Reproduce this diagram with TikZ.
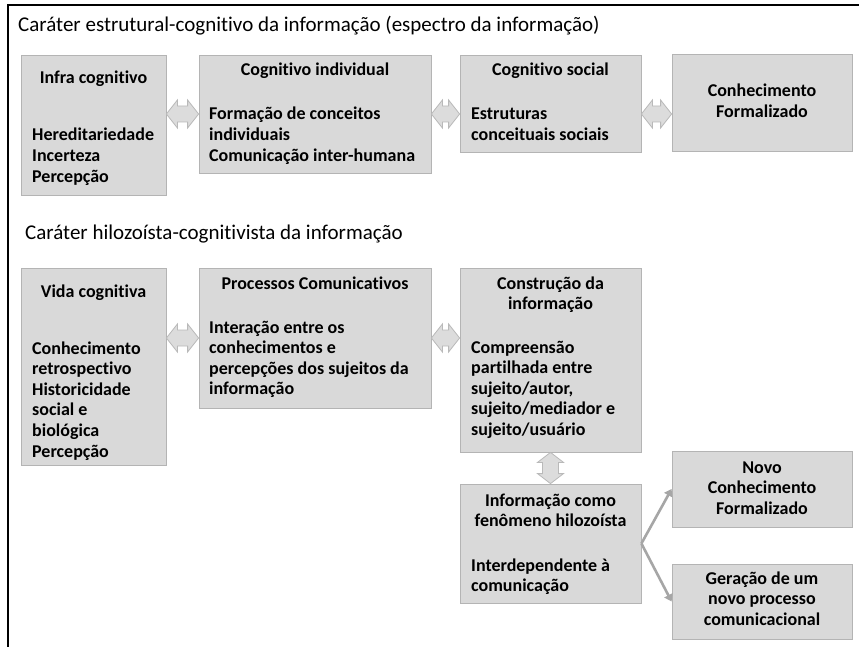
\documentclass[tikz,border=0pt]{standalone}
\usepackage{fontspec}
\setmainfont{Carlito}[Ligatures=NoCommon]
\usetikzlibrary{calc,arrows.meta}
\definecolor{boxfill}{RGB}{217,217,217}
\definecolor{boxline}{RGB}{180,180,180}
\definecolor{arrfill}{RGB}{220,220,220}
\definecolor{arrline}{RGB}{185,185,185}
\definecolor{conn}{RGB}{166,166,166}
\newcommand\hdarrow[2]{\draw[barrow] let \p1=#1, \p2=#2 in
  (\x1,\y1) -- (\x1+11pt,\y1+14pt) -- (\x1+11pt,\y1+8pt) -- (\x2-11pt,\y1+8pt) -- (\x2-11pt,\y1+14pt)
  -- (\x2,\y1) -- (\x2-11pt,\y1-14pt) -- (\x2-11pt,\y1-8pt) -- (\x1+11pt,\y1-8pt) -- (\x1+11pt,\y1-14pt) -- cycle;}
\newcommand\vdarrow[2]{\draw[barrow] let \p1=#1, \p2=#2 in
  (\x1,\y1) -- (\x1+13pt,\y1-10pt) -- (\x1+8pt,\y1-10pt) -- (\x1+8pt,\y2+10pt) -- (\x1+13pt,\y2+10pt)
  -- (\x1,\y2) -- (\x1-13pt,\y2+10pt) -- (\x1-8pt,\y2+10pt) -- (\x1-8pt,\y1-10pt) -- (\x1-13pt,\y1-10pt) -- cycle;}
\newcommand\cbox[1]{\parbox[t]{200pt}{\centering #1}}
\newcommand\lbox[1]{\parbox[t]{240pt}{\raggedright #1}}
\begin{document}
\begin{tikzpicture}[x=1pt,y=-1pt,
  box/.style={draw=boxline, line width=0.8pt, fill=boxfill, rectangle, inner sep=0pt},
  barrow/.style={draw=arrline, line width=0.8pt, fill=arrfill},
  title/.style={anchor=base west, inner sep=0pt, font=\fontsize{21}{25}\selectfont},
  hd/.style={anchor=base, inner sep=0pt, font=\bfseries\fontsize{18}{20.6}\selectfont},
  bd/.style={anchor=base west, inner sep=0pt, font=\bfseries\fontsize{18}{20.6}\selectfont},
  conn/.style={draw=conn, line width=2.6pt, -{Triangle[length=7pt,width=9pt]}}]
\useasboundingbox (0,0) rectangle (859,647);
\fill[white] (0,0) rectangle (859,647);
\draw[line width=2.6pt, black] (859,5) -- (8,5) -- (8,647);

\node[title] (h1) at (18,32) {Caráter estrutural-cognitivo da informação (espectro da informação)};
\node[title] (h2) at (25,239) {Caráter hilozoísta-cognitivista da informação};

% boxes
\node[box, minimum width=145, minimum height=140] (b1) at (93.5,125) {};
\node[box, minimum width=232, minimum height=118] (b2) at (315,114) {};
\node[box, minimum width=181, minimum height=97] (b3) at (550.5,103.5) {};
\node[box, minimum width=180, minimum height=97] (b4) at (762,102.5) {};
\node[box, minimum width=145, minimum height=197] (b5) at (93.5,366.5) {};
\node[box, minimum width=232, minimum height=140] (b6) at (315,338) {};
\node[box, minimum width=181, minimum height=184] (b7) at (550.5,360) {};
\node[box, minimum width=181, minimum height=119] (b8) at (550.5,543.5) {};
\node[box, minimum width=180, minimum height=76] (b9) at (762,489) {};
\node[box, minimum width=180, minimum height=75] (b10) at (762,601.5) {};

% texts
\node[hd] (t1a) at (93.5,84) {Infra cognitivo};
\node[bd] (t1b) at (32,141) {\lbox{Hereditariedade\\Incerteza\\Percepção}};
\node[hd] (t2a) at (315,76) {Cognitivo individual};
\node[bd] (t2b) at (209,120) {\lbox{Formação de conceitos\\individuais\\Comunicação inter-humana}};
\node[hd] (t3a) at (550.5,76) {Cognitivo social};
\node[bd] (t3b) at (471,120) {\lbox{Estruturas\\conceituais sociais}};
\node[hd] (t4a) at (762,97) {\cbox{Conhecimento\\Formalizado}};
\node[hd] (t5a) at (93.5,297) {Vida cognitiva};
\node[bd] (t5b) at (32,354) {\lbox{Conhecimento\\retrospectivo\\Historicidade\\social e\\biológica\\Percepção}};
\node[hd] (t6a) at (315,289) {Processos Comunicativos};
\node[bd] (t6b) at (209,333) {\lbox{Interação entre os\\conhecimentos e\\percepções dos sujeitos da\\informação}};
\node[hd] (t7a) at (550.5,289) {\cbox{Construção da\\informação}};
\node[bd] (t7b) at (471,353) {\lbox{Compreensão\\partilhada entre\\sujeito/autor,\\sujeito/mediador e\\sujeito/usuário}};
\node[hd] (t8a) at (550.5,506) {\cbox{Informação como\\fenômeno hilozoísta}};
\node[bd] (t8b) at (471,571) {\lbox{Interdependente à\\comunicação}};
\node[hd] (t9a) at (762,473) {\cbox{Novo\\Conhecimento\\Formalizado}};
\node[hd] (t10a) at (762,584) {\cbox{Geração de um\\novo processo\\comunicacional}};

% block arrows
\hdarrow{(b1.east |- b2.center)}{(b2.west |- b2.center)}
\hdarrow{(b2.east |- b2.center)}{(b3.west |- b2.center)}
\hdarrow{(b3.east |- b2.center)}{(b4.west |- b2.center)}
\hdarrow{(b5.east |- b6.center)}{(b6.west |- b6.center)}
\hdarrow{(b6.east |- b6.center)}{(b7.west |- b6.center)}
\vdarrow{(b7.south)}{(b8.north)}

% connectors
\draw[conn] (b8.east) -- (b9.west);
\draw[conn] (b8.east) -- (b10.west);
\end{tikzpicture}
\end{document}
